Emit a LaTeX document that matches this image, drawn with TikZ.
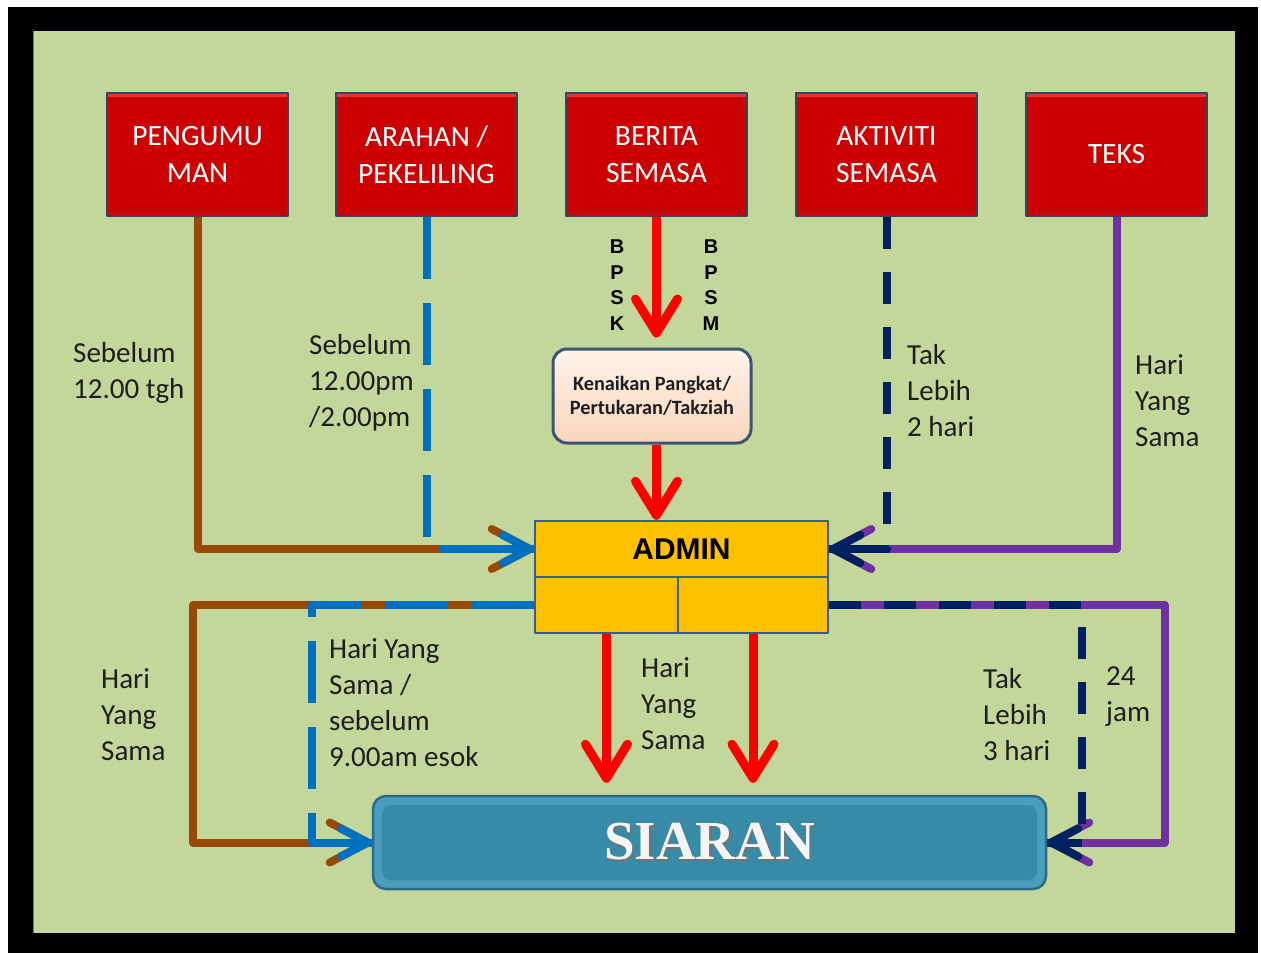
\documentclass[tikz,border=0pt]{standalone}
\usepackage{fontspec}
\setmainfont{Carlito}
\newfontfamily\arialf{Liberation Sans}
\newfontfamily\timesf{Liberation Serif}
\usetikzlibrary{arrows.meta,calc}
\definecolor{bggreen}{HTML}{C4D79B}
\definecolor{boxred}{HTML}{CC0000}
\definecolor{boxhi}{HTML}{E23A3A}
\definecolor{boxedge}{HTML}{34455F}
\definecolor{cbrown}{HTML}{984807}
\definecolor{cblue}{HTML}{0070C0}
\definecolor{cnavy}{HTML}{002060}
\definecolor{cpurple}{HTML}{7030A0}
\definecolor{cred}{HTML}{FF0000}
\definecolor{kpedge}{HTML}{3B5575}
\definecolor{kptop}{HTML}{FEF3EA}
\definecolor{kpbot}{HTML}{F8D5BC}
\definecolor{admfill}{HTML}{FFC000}
\definecolor{admedge}{HTML}{385D8A}
\definecolor{siaout}{HTML}{4A9EBD}
\definecolor{siain}{HTML}{378BA7}
\definecolor{siaedge}{HTML}{2C6A8C}
\definecolor{txtgray}{HTML}{1E1E1E}
\begin{document}
\begin{tikzpicture}[x=1pt,y=-1pt,line join=round,
  redbox/.style={draw=boxedge,line width=2.5pt,fill=boxred,minimum width=181pt,minimum height=123pt,
    inner sep=0pt,text=white,align=center,font=\fontsize{29.5}{37}\selectfont,
    path picture={\fill[boxhi]
      (path picture bounding box.north west) rectangle
      ([yshift=-4pt]path picture bounding box.north east);}},
  kpbox/.style={draw=kpedge,line width=3pt,rounded corners=14pt,top color=kptop,bottom color=kpbot,
    minimum width=198pt,minimum height=94pt,inner sep=0pt,align=center,text=txtgray,
    font=\bfseries\fontsize{20.3}{24}\selectfont},
  adminbox/.style={draw=admedge,line width=2.5pt,fill=admfill,minimum height=56pt,inner sep=0pt,
    font=\arialf\bfseries\fontsize{30}{30}\selectfont},
  siaranbox/.style={draw=siaedge,line width=2.5pt,fill=siaout,rounded corners=13pt,
    minimum width=673pt,minimum height=93pt,inner sep=0pt,
    path picture={\fill[siain,rounded corners=9pt]
      ([shift={(9pt,-9pt)}]path picture bounding box.north west) rectangle
      ([shift={(-9pt,9pt)}]path picture bounding box.south east);},
    font=\timesf\bfseries\fontsize{55}{55}\selectfont},
  bpsk/.style={align=center,inner sep=0pt,font=\arialf\bfseries\fontsize{20}{25.5}\selectfont},
  lbl/.style={anchor=west,align=left,inner sep=0pt,text=txtgray,font=\fontsize{29}{36}\selectfont},
  conn/.style={line width=8pt},
  bluedash/.style={dash pattern=on 62pt off 24pt},
  navydash/.style={dash pattern=on 32pt off 23pt},
  tipbig/.style={-{Straight Barb[length=38pt,width=40pt,round]}},
  tipsmall/.style={-{Straight Barb[length=27pt,width=28pt,round]}},
  redc/.style={line width=9pt,draw=cred,-{Straight Barb[length=34pt,width=42pt,round]}}
]
\useasboundingbox (0,0) rectangle (1261,953);
\fill[white] (0,0) rectangle (1261,953);
\fill[black] (8,7) rectangle (1258,953);
\fill[bggreen] (33,31) rectangle (1235,933);
\draw[line width=1.5pt,black!55] (33.5,31) -- (33.5,933);

% top boxes
\node[redbox] (p1) at (197.5,154.5) {PENGUMU\\MAN};
\node[redbox] (p2) at (426.5,154.5) {ARAHAN /\\PEKELILING};
\node[redbox] (p3) at (656.5,154.5) {BERITA\\SEMASA};
\node[redbox] (p4) at (886.5,154.5) {AKTIVITI\\SEMASA};
\node[redbox] (p5) at (1116.5,154.5) {TEKS};

\node[kpbox] (kp) at (652,396) {Kenaikan Pangkat/\\Pertukaran/Takziah};

\node[adminbox,minimum width=293pt] (adminT) at (681.5,549) {ADMIN};
\node[adminbox,minimum width=143pt] (adminL) at (606.5,605) {};
\node[adminbox,minimum width=150pt] (adminR) at (753,605) {};

\node[siaranbox] (siaran) at (709.5,842.5)
  {\rlap{\kern1.8pt\raisebox{-1.8pt}{\textcolor{black!55}{SIARAN}}}\textcolor{white!96!black}{SIARAN}};

\node[bpsk] (bpsk) at (617,285) {B\\P\\S\\K};
\node[bpsk] (bpsm) at (711,285) {B\\P\\S\\M};

% connectors top-left
\draw[conn,draw=cbrown,tipbig] (p1.south) |- (adminT.west);
\draw[conn,draw=cblue,bluedash] (p2.south) |- (adminT.west);
\draw[conn,draw=cblue,tipsmall] ([xshift=-90pt]adminT.west) -- (adminT.west);

% connectors top-right
\draw[conn,draw=cpurple,tipbig] (p5.south) |- (adminT.east);
\draw[conn,draw=cnavy,navydash] (p4.south) |- (adminT.east);
\draw[conn,draw=cnavy,tipsmall] ([xshift=60pt]adminT.east) -- (adminT.east);

% red arrows
\draw[redc,shorten >=10pt] (p3.south) -- (p3.south |- kp.north);
\draw[redc] (kp.south -| p3.south) -- (p3.south |- adminT.north);
\draw[redc,shorten >=12pt] (adminL.south) -- (adminL.south |- siaran.north);
\draw[redc,shorten >=12pt] (adminR.south) -- (adminR.south |- siaran.north);

% bottom left
\coordinate (bl) at (193,605);
\coordinate (bl2) at (312,605);
\draw[conn,draw=cbrown,tipbig] (adminL.west) -- (bl) |- (siaran.west);
\draw[conn,draw=cblue,bluedash] (adminL.west) -- (bl2) |- (siaran.west);
\draw[conn,draw=cblue,tipsmall] ([xshift=-60pt]siaran.west) -- (siaran.west);

% bottom right
\coordinate (br) at (1165,605);
\coordinate (br2) at (1082,605);
\draw[conn,draw=cpurple,tipbig] (adminR.east) -- (br) |- (siaran.east);
\draw[conn,draw=cnavy,navydash] (adminR.east) -- (br2) |- (siaran.east);
\draw[conn,draw=cnavy,tipsmall] ([xshift=35pt]siaran.east) -- (siaran.east);

% labels
\node[lbl] (l1) at (73,373) {Sebelum\\12.00 tgh};
\node[lbl] (l2) at (309,383) {Sebelum\\12.00pm\\/2.00pm};
\node[lbl] (l3) at (907,391) {Tak\\Lebih\\2 hari};
\node[lbl] (l4) at (1135,401) {Hari\\Yang\\Sama};
\node[lbl] (l5) at (101,715) {Hari\\Yang\\Sama};
\node[lbl] (l6) at (329,703) {Hari Yang\\Sama /\\sebelum\\9.00am esok};
\node[lbl] (l7) at (641,704) {Hari\\Yang\\Sama};
\node[lbl] (l8) at (983,715) {Tak\\Lebih\\3 hari};
\node[lbl] (l9) at (1106,697) {24\\jam};
\end{tikzpicture}
\end{document}
